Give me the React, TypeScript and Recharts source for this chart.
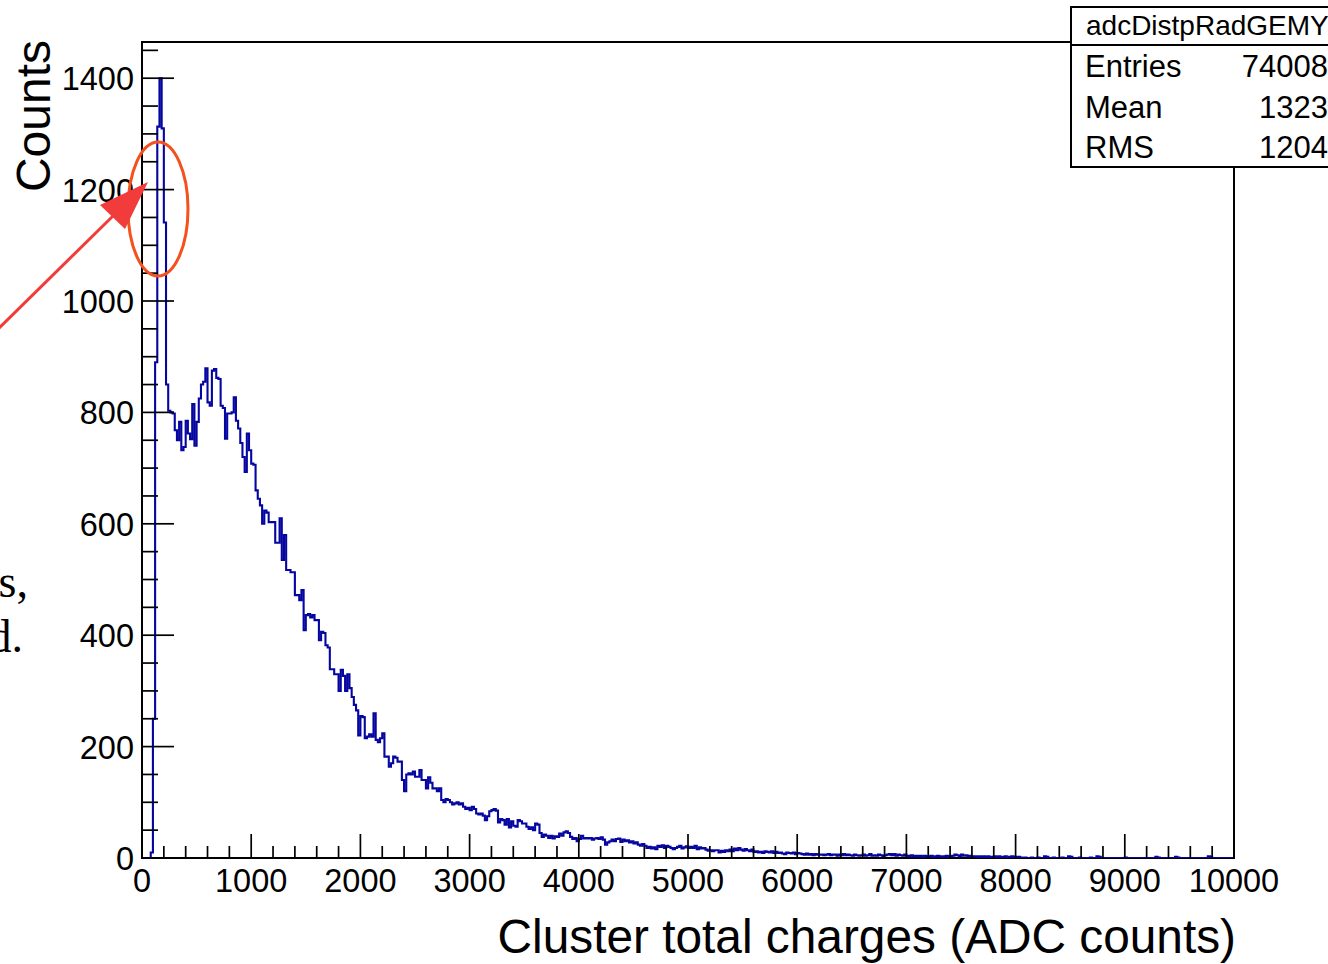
import { ComposedChart, Line, ReferenceArea, XAxis, YAxis } from 'recharts'

// histogram: 500 bins of 20 ADC counts, 0 .. 10000
const binWidth = 20
const counts = [
  0, 0, 0, 0, 10, 250, 890, 1313, 1400, 1310, 1141, 850, 803, 800, 798, 768, 750, 783, 732, 738,
  785, 762, 752, 815, 740, 783, 825, 850, 855, 879, 818, 812, 875, 878, 862, 860, 812, 808, 753, 798,
  798, 800, 827, 785, 771, 745, 720, 693, 762, 732, 708, 706, 660, 645, 633, 600, 624, 620, 603, 603,
  603, 566, 566, 610, 535, 580, 517, 517, 513, 513, 472, 472, 463, 481, 409, 436, 438, 432, 436, 427,
  427, 391, 406, 404, 382, 378, 339, 339, 330, 330, 300, 338, 327, 300, 330, 305, 289, 275, 265, 220,
  255, 253, 215, 218, 222, 218, 260, 212, 208, 215, 224, 182, 182, 164, 170, 182, 180, 173, 173, 140,
  120, 150, 152, 150, 155, 146, 146, 158, 140, 140, 125, 145, 135, 125, 125, 120, 125, 104, 100, 106,
  104, 100, 96, 98, 100, 96, 98, 92, 88, 90, 86, 92, 88, 80, 78, 80, 76, 68, 75, 84,
  86, 88, 85, 64, 70, 68, 60, 70, 55, 66, 58, 56, 68, 66, 62, 62, 56, 52, 55, 50,
  62, 60, 45, 38, 42, 40, 36, 40, 35, 39, 38, 44, 40, 46, 48, 45, 38, 34, 36, 30,
  34, 40, 35, 36, 35, 36, 33, 35, 36, 34, 37, 33, 24, 28, 30, 33, 30, 34, 35, 29,
  33, 30, 32, 28, 30, 26, 28, 24, 22, 25, 22, 18, 20, 17, 19, 16, 22, 20, 23, 18,
  22, 20, 18, 16, 18, 20, 22, 17, 19, 21, 18, 20, 18, 22, 16, 19, 17, 18, 15, 13,
  14, 12, 14, 14, 10, 13, 11, 14, 12, 15, 12, 17, 14, 18, 15, 13, 16, 14, 12, 15,
  11, 12, 10, 11, 9, 12, 11, 10, 12, 9, 11, 9, 10, 8, 7, 10, 9, 8, 10, 7,
  9, 8, 7, 6, 8, 6, 7, 5, 7, 6, 6, 6, 5, 6, 7, 5, 6, 6, 4, 6,
  5, 7, 5, 6, 5, 4, 6, 5, 4, 5, 6, 4, 5, 7, 4, 5, 4, 6, 5, 3,
  5, 6, 7, 5, 7, 4, 6, 5, 4, 6, 4, 3, 5, 3, 4, 3, 4, 2, 4, 3,
  3, 4, 2, 3, 4, 3, 2, 3, 4, 2, 3, 4, 6, 5, 3, 6, 4, 5, 3, 4,
  3, 3, 2, 3, 2, 3, 1, 3, 2, 2, 3, 2, 3, 1, 2, 3, 0, 2, 3, 1,
  2, 2, 1, 0, 1, 0, 0, 1, 0, 0, 1, 0, 0, 3, 2, 0, 0, 1, 0, 0,
  0, 1, 0, 0, 3, 2, 0, 0, 0, 1, 0, 0, 0, 0, 1, 0, 0, 3, 2, 0,
  0, 0, 0, 0, 0, 0, 0, 0, 0, 0, 1, 0, 0, 0, 0, 0, 0, 0, 0, 0,
  0, 0, 0, 0, 2, 1, 0, 0, 0, 0, 0, 0, 0, 2, 1, 0, 0, 0, 0, 0,
  0, 0, 0, 0, 0, 0, 0, 0, 3, 2, 0, 0, 0, 0, 0, 0, 0, 0, 0, 0
]

const xDomain = [0, 10000]
const yDomain = [0, 1465]
const xMajorTicks = [0, 1000, 2000, 3000, 4000, 5000, 6000, 7000, 8000, 9000, 10000]
const yMajorTicks = [0, 200, 400, 600, 800, 1000, 1200, 1400]
const xMinorStep = 200
const yMinorStep = 50

const histName = 'adcDistpRadGEMY'
const statLabels = ['Entries', 'Mean', 'RMS']
const statValues = ['74008', '1323', '1204']
const xTitle = 'Cluster total charges (ADC counts)'
const yTitle = 'Counts'
const slideText = ['s,', 'd.']

const W = 1328
const H = 964
const FONT = '"Liberation Sans", Arial, Helvetica, sans-serif'
const SERIF = '"Liberation Serif", "Times New Roman", serif'
const LINE_COLOR = '#0505a0'
const TICK_MARGIN = 8

const data = counts
  .map((c, i) => ({ x: i * binWidth, count: c }))
  .concat([{ x: xDomain[1], count: counts[counts.length - 1] }])

const xTicks: number[] = []
for (let v = xDomain[0]; v <= xDomain[1]; v += xMinorStep) xTicks.push(v)
const yTicks: number[] = []
for (let v = 0; v < yDomain[1]; v += yMinorStep) yTicks.push(v)

const XTick = ({ x, y, payload }: any) => {
  const major = xMajorTicks.includes(payload.value)
  const base = y - TICK_MARGIN
  return (
    <g>
      <line x1={x} x2={x} y1={base} y2={base - (major ? 24 : 12)} stroke="#000" strokeWidth={1.7} />
      {major && (
        <text x={x} y={base + 34} textAnchor="middle" fontSize={32.5} fontFamily={FONT} fill="#000">
          {payload.value}
        </text>
      )}
    </g>
  )
}

const YTick = ({ x, y, payload }: any) => {
  const major = yMajorTicks.includes(payload.value)
  const base = x + TICK_MARGIN
  return (
    <g>
      <line x1={base} x2={base + (major ? 32 : 16)} y1={y} y2={y} stroke="#000" strokeWidth={1.7} />
      {major && (
        <text x={x} y={y + 12} textAnchor="end" fontSize={32.5} fontFamily={FONT} fill="#000">
          {payload.value}
        </text>
      )}
    </g>
  )
}

const Overlay = () => (
  <svg
    width={W}
    height={H}
    style={{ position: 'absolute', left: 0, top: 0, pointerEvents: 'none' }}
  >
    {/* axis titles */}
    <text
      x={50}
      y={40}
      transform="rotate(-90 50 40)"
      textAnchor="end"
      fontSize={48}
      fontFamily={FONT}
      fill="#000"
    >
      {yTitle}
    </text>
    <text x={1236} y={953} textAnchor="end" fontSize={47.8} fontFamily={FONT} fill="#000">
      {xTitle}
    </text>

    {/* stats box */}
    <rect x={1071} y={7} width={300} height={160} fill="#fff" stroke="#000" strokeWidth={2} />
    <line x1={1071} x2={W} y1={45} y2={45} stroke="#000" strokeWidth={2} />
    <text x={1086} y={35} fontSize={28} fontFamily={FONT} fill="#000">
      {histName}
    </text>
    {statLabels.map((label, i) => (
      <g key={label}>
        <text x={1085} y={77 + i * 40.5} fontSize={31} fontFamily={FONT} fill="#000">
          {label}
        </text>
        <text x={1328} y={77 + i * 40.5} textAnchor="end" fontSize={31} fontFamily={FONT} fill="#000">
          {statValues[i]}
        </text>
      </g>
    ))}

    {/* slide annotation */}
    <ellipse cx={158} cy={209} rx={30} ry={67} fill="none" stroke="#f4511e" strokeWidth={3} />
    <line x1={-2} y1={329} x2={114} y2={215} stroke="#f23b3b" strokeWidth={3} />
    <polygon points="148,182 100,205 125,229" fill="#f23b3b" />
    <text x={28} y={597} textAnchor="end" fontSize={46} fontFamily={SERIF} fill="#000">
      {slideText[0]}
    </text>
    <text x={23} y={652} textAnchor="end" fontSize={46} fontFamily={SERIF} fill="#000">
      {slideText[1]}
    </text>
  </svg>
)

export default function App() {
  return (
    <div style={{ position: 'absolute', left: 0, top: 0, width: W, height: H, background: '#fff' }}>
      <ComposedChart
        width={W}
        height={H}
        data={data}
        margin={{ top: 42, right: W - 1234, bottom: 76, left: 82 }}
      >
        <XAxis
          type="number"
          dataKey="x"
          domain={xDomain}
          ticks={xTicks}
          interval={0}
          height={30}
          axisLine={false}
          tickLine={false}
          tickSize={0}
          tickMargin={TICK_MARGIN}
          tick={(props: any) => <XTick {...props} />}
          allowDataOverflow
        />
        <YAxis
          type="number"
          domain={yDomain}
          ticks={yTicks}
          interval={0}
          width={60}
          axisLine={false}
          tickLine={false}
          tickSize={0}
          tickMargin={TICK_MARGIN}
          tick={(props: any) => <YTick {...props} />}
          allowDataOverflow
        />
        <ReferenceArea
          x1={xDomain[0]}
          x2={xDomain[1]}
          y1={yDomain[0]}
          y2={yDomain[1]}
          fill="none"
          stroke="#000"
          strokeWidth={2}
        />
        <Line
          type="stepAfter"
          dataKey="count"
          stroke={LINE_COLOR}
          strokeWidth={2.1}
          dot={false}
          activeDot={false}
          isAnimationActive={false}
        />
      </ComposedChart>
      <Overlay />
    </div>
  )
}
